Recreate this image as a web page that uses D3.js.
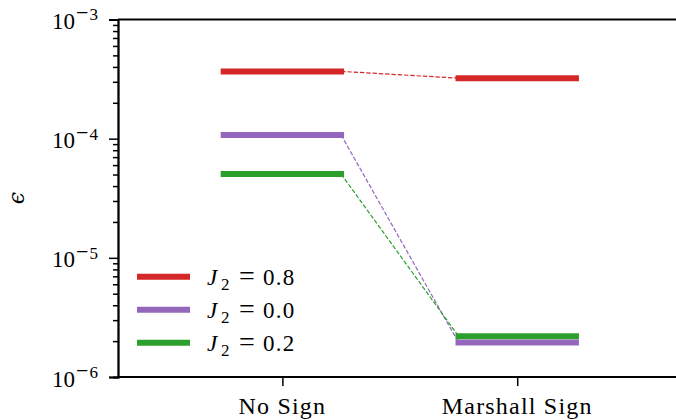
<!DOCTYPE html>
<html><head><meta charset="utf-8">
<script src="https://cdn.jsdelivr.net/npm/d3@7"></script>
<style>
body{margin:0;background:#fff}
text{font-family:"Liberation Serif","Times New Roman",serif;fill:#000}
</style>
</head><body><svg id="chart" width="676" height="420"></svg>
<script>
// Error level per sign structure, one series per J2 coupling
const categories = ["No Sign", "Marshall Sign"];
const seriesLabels = ["0.8", "0.0", "0.2"];
const seriesColors = ["#d62728", "#9467bd", "#2ca02c"];
const errJ2_08 = [3.67e-4, 3.22e-4];
const errJ2_00 = [1.075e-4, 1.95e-6];
const errJ2_02 = [5.05e-5, 2.2e-6];
const yTickExponents = [-3, -4, -5, -6];

const series = [errJ2_08, errJ2_00, errJ2_02].map((v, i) => ({
  label: seriesLabels[i], color: seriesColors[i], values: v
}));

const svg = d3.select("#chart");
const x = d3.scaleLinear().domain([-0.7, 1.7]).range([118, 681.6]);
const y = d3.scaleLog().domain([1e-6, 1e-3]).range([377, 19.5]);
const halfW = 0.25;

// connecting dashed lines between the two levels
const gDash = svg.append("g");
series.forEach(s => {
  gDash.append("line")
    .attr("x1", x(0 + halfW)).attr("y1", y(s.values[0]))
    .attr("x2", x(1 - halfW)).attr("y2", y(s.values[1]))
    .attr("stroke", s.color).attr("stroke-width", 1.2)
    .attr("stroke-dasharray", "4.4,1.9");
});

// horizontal level marks
const gBars = svg.append("g");
series.forEach(s => {
  s.values.forEach((v, i) => {
    gBars.append("line")
      .attr("x1", x(i - halfW)).attr("x2", x(i + halfW))
      .attr("y1", y(v)).attr("y2", y(v))
      .attr("stroke", s.color).attr("stroke-width", 6)
      .attr("stroke-linecap", "square");
  });
});

// spines (top and bottom run past the right edge)
const spine = svg.append("g").attr("stroke", "#000").attr("stroke-width", 1.8);
spine.append("line").attr("x1", 118).attr("x2", 690).attr("y1", 19.5).attr("y2", 19.5);
spine.append("line").attr("x1", 118).attr("x2", 690).attr("y1", 377).attr("y2", 377);

// y axis (log) with minor ticks
const minor = [];
for (let k = -6; k < -3; k++) for (let m = 2; m <= 9; m++) minor.push(m * Math.pow(10, k));
const majors = yTickExponents.map(e => Math.pow(10, e));
const yAxis = d3.axisLeft(y).tickValues(majors).tickSize(9).tickFormat("");
const yMinor = d3.axisLeft(y).tickValues(minor).tickSize(5).tickFormat("");
const gy = svg.append("g").attr("transform", "translate(118,0)").call(yAxis);
const gyMinor = svg.append("g").attr("transform", "translate(118,0)").call(yMinor);
[gy, gyMinor].forEach(g => {
  g.select(".domain").attr("stroke", "#000").attr("stroke-width", 1.8);
  g.selectAll(".tick line").attr("stroke", "#000").attr("stroke-width", 1.5);
});
yTickExponents.forEach(e => {
  const t = svg.append("text")
    .attr("x", 98).attr("y", y(Math.pow(10, e)) + 9.5)
    .attr("text-anchor", "end").style("font-size", "23px");
  t.append("tspan").text("10");
  t.append("tspan").attr("dx", 1).attr("dy", -8.6).style("font-size", "22px").text("\u2212");
  t.append("tspan").attr("dx", 1).style("font-size", "17px").text(Math.abs(e));
});

// x axis
const xAxis = d3.axisBottom(x).tickValues(categories.map((c, i) => i)).tickSize(9).tickFormat("");
const gx = svg.append("g").attr("transform", "translate(0,377)").call(xAxis);
gx.select(".domain").remove();
gx.selectAll(".tick line").attr("stroke", "#000").attr("stroke-width", 1.5);
categories.forEach((c, i) => {
  svg.append("text").attr("x", x(i)).attr("y", 414)
    .attr("text-anchor", "middle").style("font-size", "24px")
    .style("letter-spacing", "1.2px").text(c);
});

// y label
svg.append("text")
  .attr("transform", "translate(24,198) rotate(-90)")
  .attr("text-anchor", "middle")
  .style("font-family", "'DejaVu Serif', serif").style("font-style", "italic")
  .style("font-size", "22px").text("\u03F5");

// legend
const lg = svg.append("g");
series.forEach((s, i) => {
  const cy = 276.7 + i * 33;
  lg.append("line").attr("x1", 140).attr("x2", 187).attr("y1", cy).attr("y2", cy)
    .attr("stroke", s.color).attr("stroke-width", 6).attr("stroke-linecap", "square");
  const t = lg.append("text").attr("y", cy + 8).style("font-size", "23px");
  t.append("tspan").attr("x", 207).style("font-style", "italic").text("J");
  t.append("tspan").attr("x", 221).attr("dy", 5).style("font-size", "17px").text("2");
  t.append("tspan").attr("x", 239).attr("dy", -5).style("font-size", "28px").text("=");
  t.append("tspan").attr("x", 263).style("letter-spacing", "1.2px").text(s.label);
});
</script>
</body></html>
